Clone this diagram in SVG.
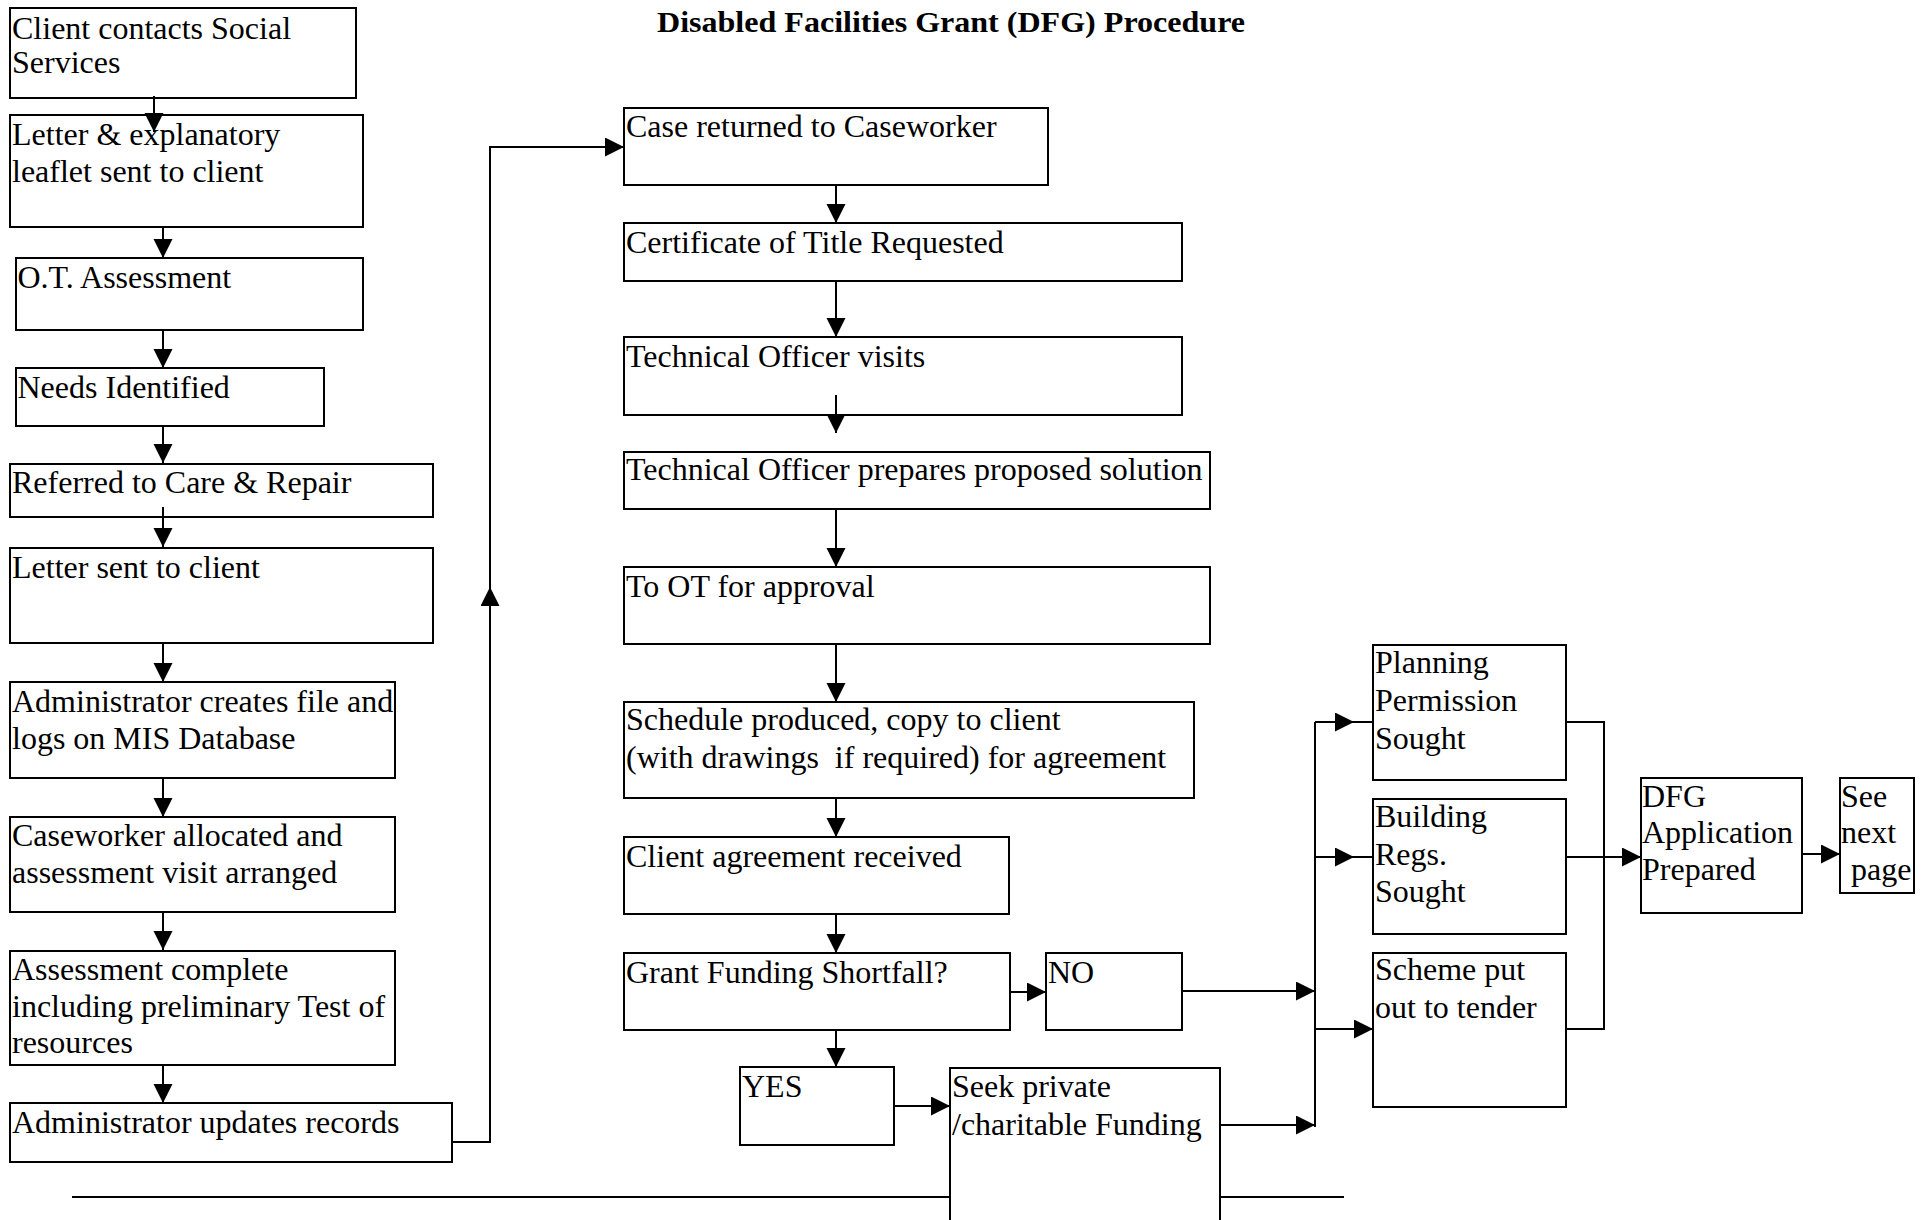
<svg xmlns="http://www.w3.org/2000/svg" width="1923" height="1220" viewBox="0 0 1923 1220">
<defs>
<style>
.box{fill:#fff;stroke:#000;stroke-width:2}
.t{font-family:"Liberation Serif","Times New Roman",serif;font-size:32px;fill:#000}
.title{font-family:"Liberation Serif","Times New Roman",serif;font-size:29px;font-weight:bold;fill:#000}
.c{fill:none;stroke:#000;stroke-width:2}
</style>
<marker id="ah" markerUnits="userSpaceOnUse" markerWidth="20" markerHeight="20" refX="19" refY="9.5" orient="auto">
<path d="M0,0 L19,9.5 L0,19 z" fill="#000"/>
</marker>
</defs>
<rect width="1923" height="1220" fill="#fff"/>
<text class="title" x="657" y="32" textLength="588" lengthAdjust="spacingAndGlyphs">Disabled Facilities Grant (DFG) Procedure</text>
<line x1="72" y1="1197" x2="1344" y2="1197" stroke="#000" stroke-width="2"/>

<g id="n1"><rect class="box" x="10" y="8" width="346" height="90"/><text class="t" x="12" y="39">Client contacts Social</text><text class="t" x="12" y="73">Services</text></g>
<g id="n2"><rect class="box" x="10" y="115" width="353" height="112"/><text class="t" x="12" y="145">Letter &amp; explanatory</text><text class="t" x="12" y="182">leaflet sent to client</text></g>
<g id="n3"><rect class="box" x="16" y="258" width="347" height="72"/><text class="t" x="17.5" y="288">O.T. Assessment</text></g>
<g id="n4"><rect class="box" x="16" y="368" width="308" height="58"/><text class="t" x="17.5" y="398">Needs Identified</text></g>
<g id="n5"><rect class="box" x="10" y="464" width="423" height="53"/><text class="t" x="12" y="493">Referred to Care &amp; Repair</text></g>
<g id="n6"><rect class="box" x="10" y="548" width="423" height="95"/><text class="t" x="12" y="578">Letter sent to client</text></g>
<g id="n7"><rect class="box" x="10" y="682" width="385" height="96"/><text class="t" x="12" y="712">Administrator creates file and</text><text class="t" x="12" y="749">logs on MIS Database</text></g>
<g id="n8"><rect class="box" x="10" y="817" width="385" height="95"/><text class="t" x="12" y="846">Caseworker allocated and</text><text class="t" x="12" y="883">assessment visit arranged</text></g>
<g id="n9"><rect class="box" x="10" y="951" width="385" height="114"/><text class="t" x="12" y="980">Assessment complete</text><text class="t" x="12" y="1017">including preliminary Test of</text><text class="t" x="12" y="1053">resources</text></g>
<g id="n10"><rect class="box" x="10" y="1103" width="442" height="59"/><text class="t" x="12" y="1133">Administrator updates records</text></g>

<g id="m1"><rect class="box" x="624" y="108" width="424" height="77"/><text class="t" x="626" y="137">Case returned to Caseworker</text></g>
<g id="m2"><rect class="box" x="624" y="223" width="558" height="58"/><text class="t" x="626" y="253">Certificate of Title Requested</text></g>
<g id="m3"><rect class="box" x="624" y="337" width="558" height="78"/><text class="t" x="626" y="367">Technical Officer visits</text></g>
<g id="m4"><rect class="box" x="624" y="452" width="586" height="57"/><text class="t" x="626" y="480">Technical Officer prepares proposed solution</text></g>
<g id="m5"><rect class="box" x="624" y="567" width="586" height="77"/><text class="t" x="626" y="597">To OT for approval</text></g>
<g id="m6"><rect class="box" x="624" y="702" width="570" height="96"/><text class="t" x="626" y="730">Schedule produced, copy to client</text><text class="t" x="626" y="768" xml:space="preserve">(with drawings  if required) for agreement</text></g>
<g id="m7"><rect class="box" x="624" y="837" width="385" height="77"/><text class="t" x="626" y="867">Client agreement received</text></g>
<g id="m8"><rect class="box" x="624" y="953" width="386" height="77"/><text class="t" x="626" y="983">Grant Funding Shortfall?</text></g>
<g id="no"><rect class="box" x="1046" y="953" width="136" height="77"/><text class="t" x="1048" y="983">NO</text></g>
<g id="yes"><rect class="box" x="740" y="1067" width="154" height="78"/><text class="t" x="742" y="1097">YES</text></g>
<g id="seek"><rect class="box" x="950" y="1068" width="270" height="170"/><text class="t" x="952" y="1097">Seek private</text><text class="t" x="952" y="1135">/charitable Funding</text></g>

<g id="planning"><rect class="box" x="1373" y="645" width="193" height="135"/><text class="t" x="1375" y="673">Planning</text><text class="t" x="1375" y="711">Permission</text><text class="t" x="1375" y="749">Sought</text></g>
<g id="building"><rect class="box" x="1373" y="799" width="193" height="135"/><text class="t" x="1375" y="827">Building</text><text class="t" x="1375" y="865">Regs.</text><text class="t" x="1375" y="902">Sought</text></g>
<g id="scheme"><rect class="box" x="1373" y="953" width="193" height="154"/><text class="t" x="1375" y="980">Scheme put</text><text class="t" x="1375" y="1018">out to tender</text></g>
<g id="dfg"><rect class="box" x="1641" y="778" width="161" height="135"/><text class="t" x="1642" y="807">DFG</text><text class="t" x="1642" y="843">Application</text><text class="t" x="1642" y="880">Prepared</text></g>
<g id="see"><rect class="box" x="1840" y="778" width="74" height="115"/><text class="t" x="1841" y="807">See</text><text class="t" x="1841" y="843">next</text><text class="t" x="1851" y="880">page</text></g>

<g id="connectors">
<path class="c" d="M154,96 V132" marker-end="url(#ah)"/>
<path class="c" d="M163,227 V258" marker-end="url(#ah)"/>
<path class="c" d="M163,330 V368" marker-end="url(#ah)"/>
<path class="c" d="M163,426 V463" marker-end="url(#ah)"/>
<path class="c" d="M163,507 V547" marker-end="url(#ah)"/>
<path class="c" d="M163,643 V682" marker-end="url(#ah)"/>
<path class="c" d="M163,778 V817" marker-end="url(#ah)"/>
<path class="c" d="M163,912 V950" marker-end="url(#ah)"/>
<path class="c" d="M163,1065 V1103" marker-end="url(#ah)"/>
<path class="c" d="M452,1142 H490 V587" marker-end="url(#ah)"/>
<path class="c" d="M490,590 V147 H624" marker-end="url(#ah)"/>
<path class="c" d="M836,185 V223" marker-end="url(#ah)"/>
<path class="c" d="M836,281 V337" marker-end="url(#ah)"/>
<path class="c" d="M836,395 V433" marker-end="url(#ah)"/>
<path class="c" d="M836,509 V567" marker-end="url(#ah)"/>
<path class="c" d="M836,644 V702" marker-end="url(#ah)"/>
<path class="c" d="M836,798 V837" marker-end="url(#ah)"/>
<path class="c" d="M836,914 V953" marker-end="url(#ah)"/>
<path class="c" d="M836,1030 V1067" marker-end="url(#ah)"/>
<path class="c" d="M1010,992 H1046" marker-end="url(#ah)"/>
<path class="c" d="M894,1106 H950" marker-end="url(#ah)"/>
<path class="c" d="M1182,991 H1315" marker-end="url(#ah)"/>
<path class="c" d="M1220,1125 H1315" marker-end="url(#ah)"/>
<path class="c" d="M1315,1127 V722"/>
<path class="c" d="M1315,722 H1354" marker-end="url(#ah)"/>
<path class="c" d="M1352,722 H1373"/>
<path class="c" d="M1315,857 H1354" marker-end="url(#ah)"/>
<path class="c" d="M1352,857 H1373"/>
<path class="c" d="M1315,1029 H1373" marker-end="url(#ah)"/>
<path class="c" d="M1566,722 H1604 V1029 H1566"/>
<path class="c" d="M1566,857 H1641" marker-end="url(#ah)"/>
<path class="c" d="M1802,854 H1840" marker-end="url(#ah)"/>
</g>
</svg>
